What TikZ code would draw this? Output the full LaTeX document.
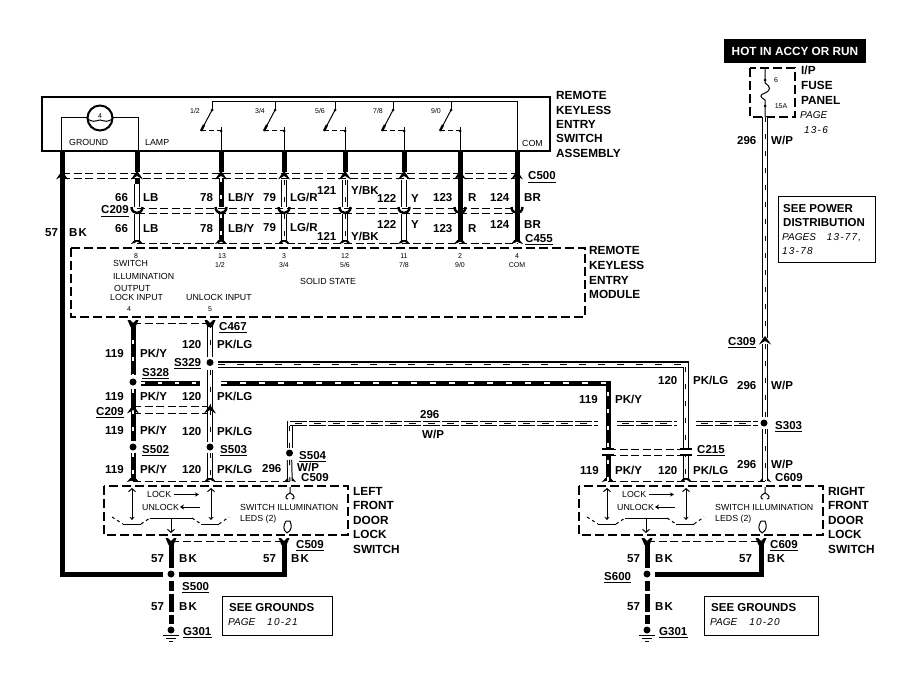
\documentclass[tikz,border=0pt]{standalone}
\usepackage{fontspec}
\setmainfont{Liberation Sans}
\usetikzlibrary{arrows.meta,calc}
\newcounter{lab}
\tikzset{
  lbl/.style={font=\fontsize{11.5}{12}\selectfont\bfseries,inner sep=0pt,anchor=west,text height=8pt,text depth=0pt},
  big/.style={font=\fontsize{11.8}{13}\selectfont\bfseries,inner sep=0pt,anchor=west,text height=8pt,text depth=0pt},
  sml/.style={font=\fontsize{8.8}{9}\selectfont,inner sep=0pt,anchor=west,text height=6pt,text depth=0pt},
  tiny/.style={font=\fontsize{7}{8}\selectfont,inner sep=0pt,anchor=center,text height=5pt,text depth=0pt},
  ital/.style={font=\fontsize{10}{11}\selectfont\itshape,inner sep=0pt,anchor=west,text height=7pt,text depth=0pt},
  solidw/.style={line width=5pt,black},
  tickw/.style={line width=5pt,black,postaction={draw,white,line width=1.3pt,dash pattern=on 4pt off 13pt}},
  hollow/.style={black,line width=1pt,double=white,double distance=3.4pt},
  tracer/.style={black,line width=1pt,double=white,double distance=3.4pt,postaction={draw,black,line width=1pt,double=none,dash pattern=on 5pt off 12pt}},
  conn/.style={line width=1pt,dash pattern=on 8pt off 3.5pt},
  modbox/.style={line width=1.8pt,dash pattern=on 9pt off 4pt},
  thin/.style={line width=1pt},
  dotnode/.style={circle,fill=black,inner sep=0pt,minimum size=7pt},
  smalldot/.style={circle,fill=black,inner sep=0pt,minimum size=3pt},
  chup/.pic={\fill (-6,3.5) -- (-3,-1) -- (0,-5) -- (3,-1) -- (6,3.5) -- (2.5,1.5) -- (0,0) -- (-2.5,1.5) -- cycle;},
  chfl/.pic={\fill (-6,1) -- (-2.6,-3) -- (2.6,-3) -- (6,1) -- (2.5,0) -- (0,-1.5) -- (-2.5,0) -- cycle;},
  chtop/.pic={\fill (-5.5,-3) -- (-3,-3) -- (0,0) -- (3,-3) -- (5.5,-3) -- (2.5,4) -- (-2.5,4) -- cycle;},
  chcup/.pic={\draw[line width=2.4pt] (-5.5,-2) .. controls (-5.5,6) and (5.5,6) .. (5.5,-2);},
  chbar/.pic={\draw[line width=2pt] (-6,-3.5) -- (6,-3.5); \draw[line width=2pt] (-6,3) -- (6,3); \fill[white] (-4,-2) rectangle (4,1.5);}
}
\newcommand\lab[3]{\stepcounter{lab}\node[lbl] (lab\arabic{lab}) at (#1,#2) {#3};}
\newcommand\biglab[3]{\stepcounter{lab}\node[big] (lab\arabic{lab}) at (#1,#2) {#3};}
\newcommand\ulab[3]{\stepcounter{lab}\node[lbl] (lab\arabic{lab}) at (#1,#2) {#3};\draw[line width=1pt] ([yshift=-2pt]lab\arabic{lab}.south west) -- ([yshift=-2pt]lab\arabic{lab}.south east);}
\newcommand\smal[3]{\stepcounter{lab}\node[sml] (lab\arabic{lab}) at (#1,#2) {#3};}
\newcommand\tin[3]{\stepcounter{lab}\node[tiny] (lab\arabic{lab}) at (#1,#2) {#3};}
\newcommand\ita[3]{\stepcounter{lab}\node[ital] (lab\arabic{lab}) at (#1,#2) {#3};}
\newcommand\dg[1]{{\addfontfeatures{LetterSpace=12}#1}}
\newcommand\bk{{\spaceskip=1.2pt B K}}
% switch: top x, lower x, label, label x
\newcommand\swt[4]{%
  \coordinate (st#1) at (#1,102);\coordinate (sm#1) at (#1,110);\coordinate (sb#1) at (#1-11,131);
  \coordinate (sl#2) at (#2,131);\coordinate (se#2) at (#2,151);
  \draw[thin] (st#1) -- (sm#1);
  \node[smalldot] at (sm#1) {};
  \draw[thin] (sm#1) -- (sb#1);
  \draw[line width=2.4pt] ($(sb#1)+(3,-6)$) -- (sb#1);
  \draw[thin,dash pattern=on 5pt off 3pt] (sb#1) -- (sl#2);
  \node[smalldot] at (sl#2) {};
  \draw[thin] (sl#2) -- (se#2);
  \draw[thin] (sl#2) -- ++(0,-4);
  \tin{#4}{111}{#3}
}
% door switch interior, drawn with origin of the left-hand switch
\newcommand\doorbody{%
  \draw[modbox] (104,486) rectangle (348,535);
  \coordinate (va) at (132,488);\coordinate (vb) at (132,520);
  \coordinate (vc) at (211,488);\coordinate (vd) at (211,520);
  \draw[thin,{Straight Barb[length=3pt,width=7pt]}-{Stealth[length=3pt,width=5pt]}] (va) -- (vb);
  \draw[thin,{Straight Barb[length=3pt,width=7pt]}-{Stealth[length=3pt,width=5pt]}] (vc) -- (vd);
  \draw[thin] (123,524) -- (141,524) (201,524) -- (219,524);
  \draw[thin,dash pattern=on 3pt off 3pt] (112,517) -- (123,524);
  \draw[thin,dash pattern=on 3pt off 3pt] (141,524) -- (150,518);
  \draw[thin] (150,518) -- (192,518);
  \draw[thin,dash pattern=on 3pt off 3pt] (192,518) -- (201,524);
  \draw[thin,dash pattern=on 3pt off 3pt] (219,524) -- (229,517);
  \draw[thin,-{Straight Barb[length=3pt,width=7pt]}] (171,518) -- (171,533);
  \smal{147}{494.5}{LOCK}
  \draw[thin,-{Stealth[length=4pt,width=4pt]}] (174,494.5) -- (199,494.5);
  \smal{142}{507}{UNLOCK}
  \draw[thin,-{Stealth[length=4pt,width=5pt]}] (200,507) -- (180,507);
  \smal{240}{507}{SWITCH ILLUMINATION}
  \smal{240}{518}{LEDS (2)}
  \draw[thin] (290,487) -- (290,493) .. controls (285,495) and (285,499) .. (288,499);
  \draw[thin] (290,493) .. controls (295,495) and (295,499) .. (292,499);
  \draw[thin] (286,521) -- (290,521) .. controls (292,526) and (292,530) .. (287,533);
  \draw[thin] (286,521) .. controls (283,526) and (283,530) .. (287,533);
}
\begin{document}
\begin{tikzpicture}[x=1pt,y=-1pt,line cap=butt]
\useasboundingbox (0,0) rectangle (907,679);
\fill[white] (0,0) rectangle (907,679);

%% Switch assembly
\draw[line width=2pt] (42,97) rectangle (550,151);
\coordinate (gtl) at (61,118);\coordinate (gtr) at (138,118);
\draw[thin] (61,151) -- (gtl) -- (gtr) -- (138,151);
\node[circle,draw,line width=2pt,fill=white,minimum size=25pt,inner sep=0pt] (lamp) at (100,118) {};
\draw[thin] (87,118) .. controls (92,123) and (95,121) .. (100,120) .. controls (105,121) and (108,123) .. (113,118);
\tin{100}{116}{4}
\smal{69}{142.5}{GROUND}
\smal{145}{143}{LAMP}
\smal{522}{144}{COM}
\coordinate (busa) at (212,102);\coordinate (busb) at (517,102);\coordinate (busc) at (517,151);
\draw[thin] (busa) -- (busb) -- (busc);
\swt{212}{221}{1/2}{195}
\swt{275}{284}{3/4}{260}
\swt{335}{345}{5/6}{320}
\swt{393}{404}{7/8}{378}
\swt{451}{460}{9/0}{436}

%% Connector dashed lines
\draw[conn] (62,174) -- (517,174);
\draw[conn] (62,179) -- (517,179);
\draw[conn] (137,208) -- (517,208);
\draw[conn] (137,213) -- (517,213);
\draw[conn] (137,243) -- (517,243);
\draw[conn] (133,323) -- (210,323);
\draw[conn] (133,406) -- (210,406);
\draw[conn] (133,413) -- (210,413);
\draw[conn] (608,449) -- (687,449);
\draw[conn] (608,455) -- (687,455);
\draw[conn] (133,481) -- (290,481);
\draw[conn] (608,481) -- (765,481);
\draw[conn] (171,541) -- (284,541);
\draw[conn] (647,541) -- (761,541);

%% Upper wires
\draw[solidw] (62,151) -- (62,574);
\foreach \x in {137,221,284,345,404,460,517}{\draw[solidw] (\x,151) -- (\x,172);}
\foreach \x in {460,517}{\draw[solidw] (\x,172) -- (\x,241);}
\draw[solidw] (137,178) -- (137,184);
\draw[hollow] (137,184) -- (137,207);\draw[hollow] (137,214) -- (137,241);
\draw[tickw] (221,178) -- (221,207);\draw[tickw] (221,214) -- (221,241);
\draw[tracer] (284,180) -- (284,207);\draw[tracer] (284,214) -- (284,241);
\draw[tracer] (345,180) -- (345,207);\draw[tracer] (345,214) -- (345,241);
\draw[hollow] (404,180) -- (404,207);\draw[hollow] (404,214) -- (404,241);
\foreach \x in {62,137,221,284,345,404,460,517}{\pic at (\x,176) {chup};}
\foreach \x in {137,221,284,345,404,460,517}{\pic at (\x,209) {chcup};\pic at (\x,243) {chfl};}

%% Module
\draw[modbox] (71,248) rectangle (585,317);
\tin{136}{256}{8}\tin{222}{256}{13}\tin{284}{256}{3}\tin{345}{256}{12}\tin{404}{256}{11}\tin{460}{256}{2}\tin{517}{256}{4}
\tin{220}{265}{1/2}\tin{284}{265}{3/4}\tin{345}{265}{5/6}\tin{404}{265}{7/8}\tin{460}{265}{9/0}\tin{517}{265}{COM}
\smal{113}{263.5}{SWITCH}
\smal{113}{276}{ILLUMINATION}
\smal{114}{288}{OUTPUT}
\smal{110}{297.5}{LOCK INPUT}
\smal{186}{297}{UNLOCK INPUT}
\tin{129}{309}{4}\tin{210}{309}{5}
\smal{300}{281.5}{SOLID STATE}

%% Junction nodes
\node[dotnode] (S328) at (133,382) {};
\node[dotnode] (S329) at (210,362.5) {};
\node[dotnode] (S502) at (133,447) {};
\node[dotnode] (S503) at (210,447) {};
\node[dotnode] (S504) at (289.5,453) {};
\node[dotnode] (S303) at (764,423) {};
\node[dotnode] (S500) at (171,574) {};
\node[dotnode] (S600) at (647,574) {};
\node[dotnode] (G301a) at (171,630) {};
\node[dotnode] (G301b) at (647,630) {};

\coordinate (c467a) at (133,323);\coordinate (c467b) at (210,323);
\coordinate (c209a) at (133,410);\coordinate (c209b) at (210,410);
\coordinate (c509a) at (133,481);\coordinate (c509b) at (210,481);\coordinate (c509c) at (290,481);
\coordinate (c609a) at (608,481);\coordinate (c609b) at (686,481);\coordinate (c609c) at (765,481);

%% Lock wires
\draw[tickw] (c467a) -- ($(S328)+(0,-7)$);
\draw[tickw] (S328) ++(0,7) -- (c209a);
\draw[tickw] (c209a) -- ($(S502)+(0,-6)$);
\draw[tickw] (S502) ++(0,6) -- (c509a);
\draw[tracer] (c467b) -- ($(S329)+(0,-6)$);
\draw[tracer] (S329) ++(0,7) -- (c209b);
\draw[tracer] (c209b) -- ($(S503)+(0,-5)$);
\draw[tracer] (S503) ++(0,6) -- (c509b);
\foreach \c in {c467a,c467b}{\pic at (\c) {chtop};}
\foreach \c in {c209a,c209b}{\pic at (\c) {chup};}
\foreach \c in {c509a,c509b,c509c,c609a,c609b,c609c}{\pic at (\c) {chfl};}

%% Horizontal PK/Y
\coordinate (h1a) at (141,383);\coordinate (h1b) at (200,383);
\coordinate (h1c) at (221,383);\coordinate (h1d) at (610.5,383);
\draw[tickw] (h1a) -- (h1b);
\draw[line width=5pt] (h1c) -- (h1d);
\draw[white,line width=1.2pt,dash pattern=on 6pt off 13pt] (h1c) -- (h1d);
\draw[line width=5pt] (608,380.5) -- (c609a);
\draw[white,line width=1.3pt,dash pattern=on 4pt off 13pt] (608,392) -- (c609a);
\pic at (608,452) {chbar};
%% Horizontal PK/LG
\coordinate (h2a) at (218,362);\coordinate (h2b) at (688,362);
\draw[line width=2pt] (h2a) -- (h2b);
\draw[thin] (218,367) -- (683,367);
\draw[line width=1pt,dash pattern=on 7pt off 12pt] (218,364.6) -- (682,364.6);
\draw[thin] (683,367) -- (683,480) (688,361) -- (688,480);
\draw[thin,dash pattern=on 5pt off 12pt] (685.5,367) -- (685.5,480);
\pic at (686,452) {chbar};
%% Horizontal 296
\coordinate (h3a) at (290,423);\coordinate (h3b) at (758,423);
\foreach \s/\e in {290/598,617/677,696/758}{
  \draw[thin,dash pattern=on 17pt off 2pt] (\s,421.5) -- (\e,421.5);
  \draw[thin,dash pattern=on 17pt off 2pt] (\s,425.5) -- (\e,425.5);
  \draw[thin,dash pattern=on 7pt off 12pt] (\s+5,423.5) -- (\e,423.5);
}
\draw[thin] (287.5,421) -- (287.5,448) (292,426) -- (292,448);
\draw[thin,dash pattern=on 5pt off 12pt] (289.7,426) -- (289.7,448);
\draw[tracer] (S504) ++(0,7) -- (c509c);
%% Hot feed
\node[rectangle,fill=black,text=white,font=\fontsize{11.8}{13}\selectfont\bfseries,minimum width=142pt,minimum height=24pt,inner sep=0pt] (hot) at (795,51) {HOT IN ACCY OR RUN};
\draw[modbox] (750,68) rectangle (795,117);
\coordinate (ft) at (765,68);\coordinate (fb) at (765,117);
\draw[thin] (ft) -- (765,83) .. controls (771,87) and (771,90) .. (765,93) .. controls (759,95) and (760,97) .. (765,100) -- (fb);
\node[smalldot] (fa) at (765,80) {};
\node[smalldot] (fc) at (765,106) {};
\tin{776}{80}{6}\tin{781}{106}{15A}
\draw[tracer] (fb) -- (765,338);
\draw[tracer] (765,344) -- ($(S303)+(1,-6)$);
\draw[tracer] ($(S303)+(1,6)$) -- (c609c);
\pic at (765,341) {chup};

%% Door switches
\doorbody
\begin{scope}[xshift=475pt]\doorbody\end{scope}

%% Ground wires
\foreach \x in {171,284,647,761}{\pic at (\x,541) {chtop};}
\coordinate (gnda) at (59.5,574);
\coordinate (gndb) at (163,574);\coordinate (gndc) at (179,574);\coordinate (gndd) at (655,574);
\draw[line width=5pt] (gndb) -- (gnda);
\draw[line width=5pt] (171,541) -- (171,568);
\draw[line width=5pt,line join=miter] (284,541) -- (284,574) -- (gndc);
\draw[line width=5pt] (647,541) -- (647,568);
\draw[line width=5pt,line join=miter] (761,541) -- (761,574) -- (gndd);
\foreach \x in {171,647}{
  \draw[line width=5pt] (\x,581) -- (\x,591) (\x,594) -- (\x,612) (\x,615) -- (\x,624);
  \draw[line width=1pt] (\x-8,635) -- (\x+8,635) (\x-5,638) -- (\x+5,638) (\x-2,641) -- (\x+2,641);
}

%% Side titles
\biglab{556}{96}{REMOTE}\biglab{556}{111}{KEYLESS}\biglab{556}{125}{ENTRY}\biglab{556}{139}{SWITCH}\biglab{556}{154}{ASSEMBLY}
\biglab{589}{250}{REMOTE}\biglab{589}{265}{KEYLESS}\biglab{589}{280}{ENTRY}\biglab{589}{294}{MODULE}
\biglab{353}{491}{LEFT}\biglab{353}{505}{FRONT}\biglab{353}{520}{DOOR}\biglab{353}{534}{LOCK}\biglab{353}{549}{SWITCH}
\biglab{828}{491}{RIGHT}\biglab{828}{505}{FRONT}\biglab{828}{520}{DOOR}\biglab{828}{534}{LOCK}\biglab{828}{549}{SWITCH}
\biglab{801}{71}{I/P}\biglab{801}{86}{FUSE}\biglab{801}{101}{PANEL}
\ita{800}{115}{PAGE}\ita{804}{130}{\dg{13-6}}

%% Wire labels, upper
\lab{45}{232}{57}\lab{69}{232}{\bk}
\lab{115}{197}{66}\lab{143}{197}{LB}\ulab{101}{210}{C209}\lab{115}{228}{66}\lab{143}{228}{LB}
\lab{200}{197}{78}\lab{228}{197}{LB/Y}\lab{200}{228}{78}\lab{228}{228}{LB/Y}
\lab{263}{198}{79}\lab{290}{198}{LG/R}\lab{263}{227}{79}\lab{290}{227}{LG/R}
\lab{317}{190}{121}\lab{351}{190}{Y/BK}\lab{317}{236}{121}\lab{351}{236}{Y/BK}
\lab{377}{199}{122}\lab{411}{199}{Y}\lab{377}{224}{122}\lab{411}{224}{Y}
\lab{433}{197}{123}\lab{468}{197}{R}\lab{433}{228}{123}\lab{468}{228}{R}
\lab{490}{197}{124}\lab{524}{197}{BR}\lab{490}{225}{124}\lab{524}{225}{BR}
\ulab{528}{176}{C500}\ulab{525}{238}{C455}

%% Wire labels, lock wires
\lab{105}{353}{119}\lab{140}{353}{PK/Y}\lab{182}{344}{120}\lab{217}{344}{PK/LG}
\ulab{219}{326}{C467}\ulab{174}{362}{S329}\ulab{142}{372}{S328}
\lab{105}{396}{119}\lab{140}{396}{PK/Y}\lab{182}{396}{120}\lab{217}{396}{PK/LG}
\ulab{96}{411}{C209}
\lab{105}{430}{119}\lab{140}{430}{PK/Y}\lab{182}{431}{120}\lab{217}{431}{PK/LG}
\ulab{142}{449}{S502}\ulab{220}{449}{S503}
\lab{105}{469}{119}\lab{140}{469}{PK/Y}\lab{182}{469}{120}\lab{217}{469}{PK/LG}
\ulab{299}{455}{S504}\lab{262}{468}{296}\lab{297}{467}{W/P}\lab{301}{477}{C509}
\lab{420}{414}{296}\lab{422}{434}{W/P}

%% Right side labels
\lab{658}{380}{120}\lab{693}{380}{PK/LG}\lab{579}{399}{119}\lab{615}{399}{PK/Y}
\ulab{728}{341}{C309}\lab{737}{385}{296}\lab{771}{385}{W/P}\ulab{775}{425}{S303}
\ulab{697}{449}{C215}
\lab{580}{470}{119}\lab{615}{470}{PK/Y}\lab{658}{470}{120}\lab{693}{470}{PK/LG}
\lab{737}{464}{296}\lab{771}{464}{W/P}\lab{775}{477}{C609}
\lab{737}{141}{296}\lab{771}{141}{W/P}

%% Bottom labels
\lab{151}{558}{57}\lab{179}{558}{\bk}\lab{263}{558}{57}\lab{291}{558}{\bk}\ulab{296}{544}{C509}
\ulab{182}{586}{S500}\lab{151}{606}{57}\lab{179}{606}{\bk}\ulab{183}{631}{G301}
\lab{627}{558}{57}\lab{655}{558}{\bk}\lab{739}{558}{57}\lab{767}{558}{\bk}\ulab{770}{544}{C609}
\ulab{604}{576}{S600}\lab{627}{606}{57}\lab{655}{606}{\bk}\ulab{659}{631}{G301}

%% Reference boxes
\draw[thin] (222,596) rectangle (332,635);
\draw[thin] (704,596) rectangle (818,635);
\draw[thin] (778,197) rectangle (875,262);
\lab{229}{607}{SEE GROUNDS}\ita{228}{622}{PAGE\hspace{12pt}\dg{10-21}}
\lab{711}{607}{SEE GROUNDS}\ita{710}{622}{PAGE\hspace{12pt}\dg{10-20}}
\lab{783}{208}{SEE POWER}\lab{783}{222}{DISTRIBUTION}\ita{782}{237}{PAGES\hspace{11pt}\dg{13-77,}}\ita{782}{251}{\dg{13-78}}
\end{tikzpicture}
\end{document}
